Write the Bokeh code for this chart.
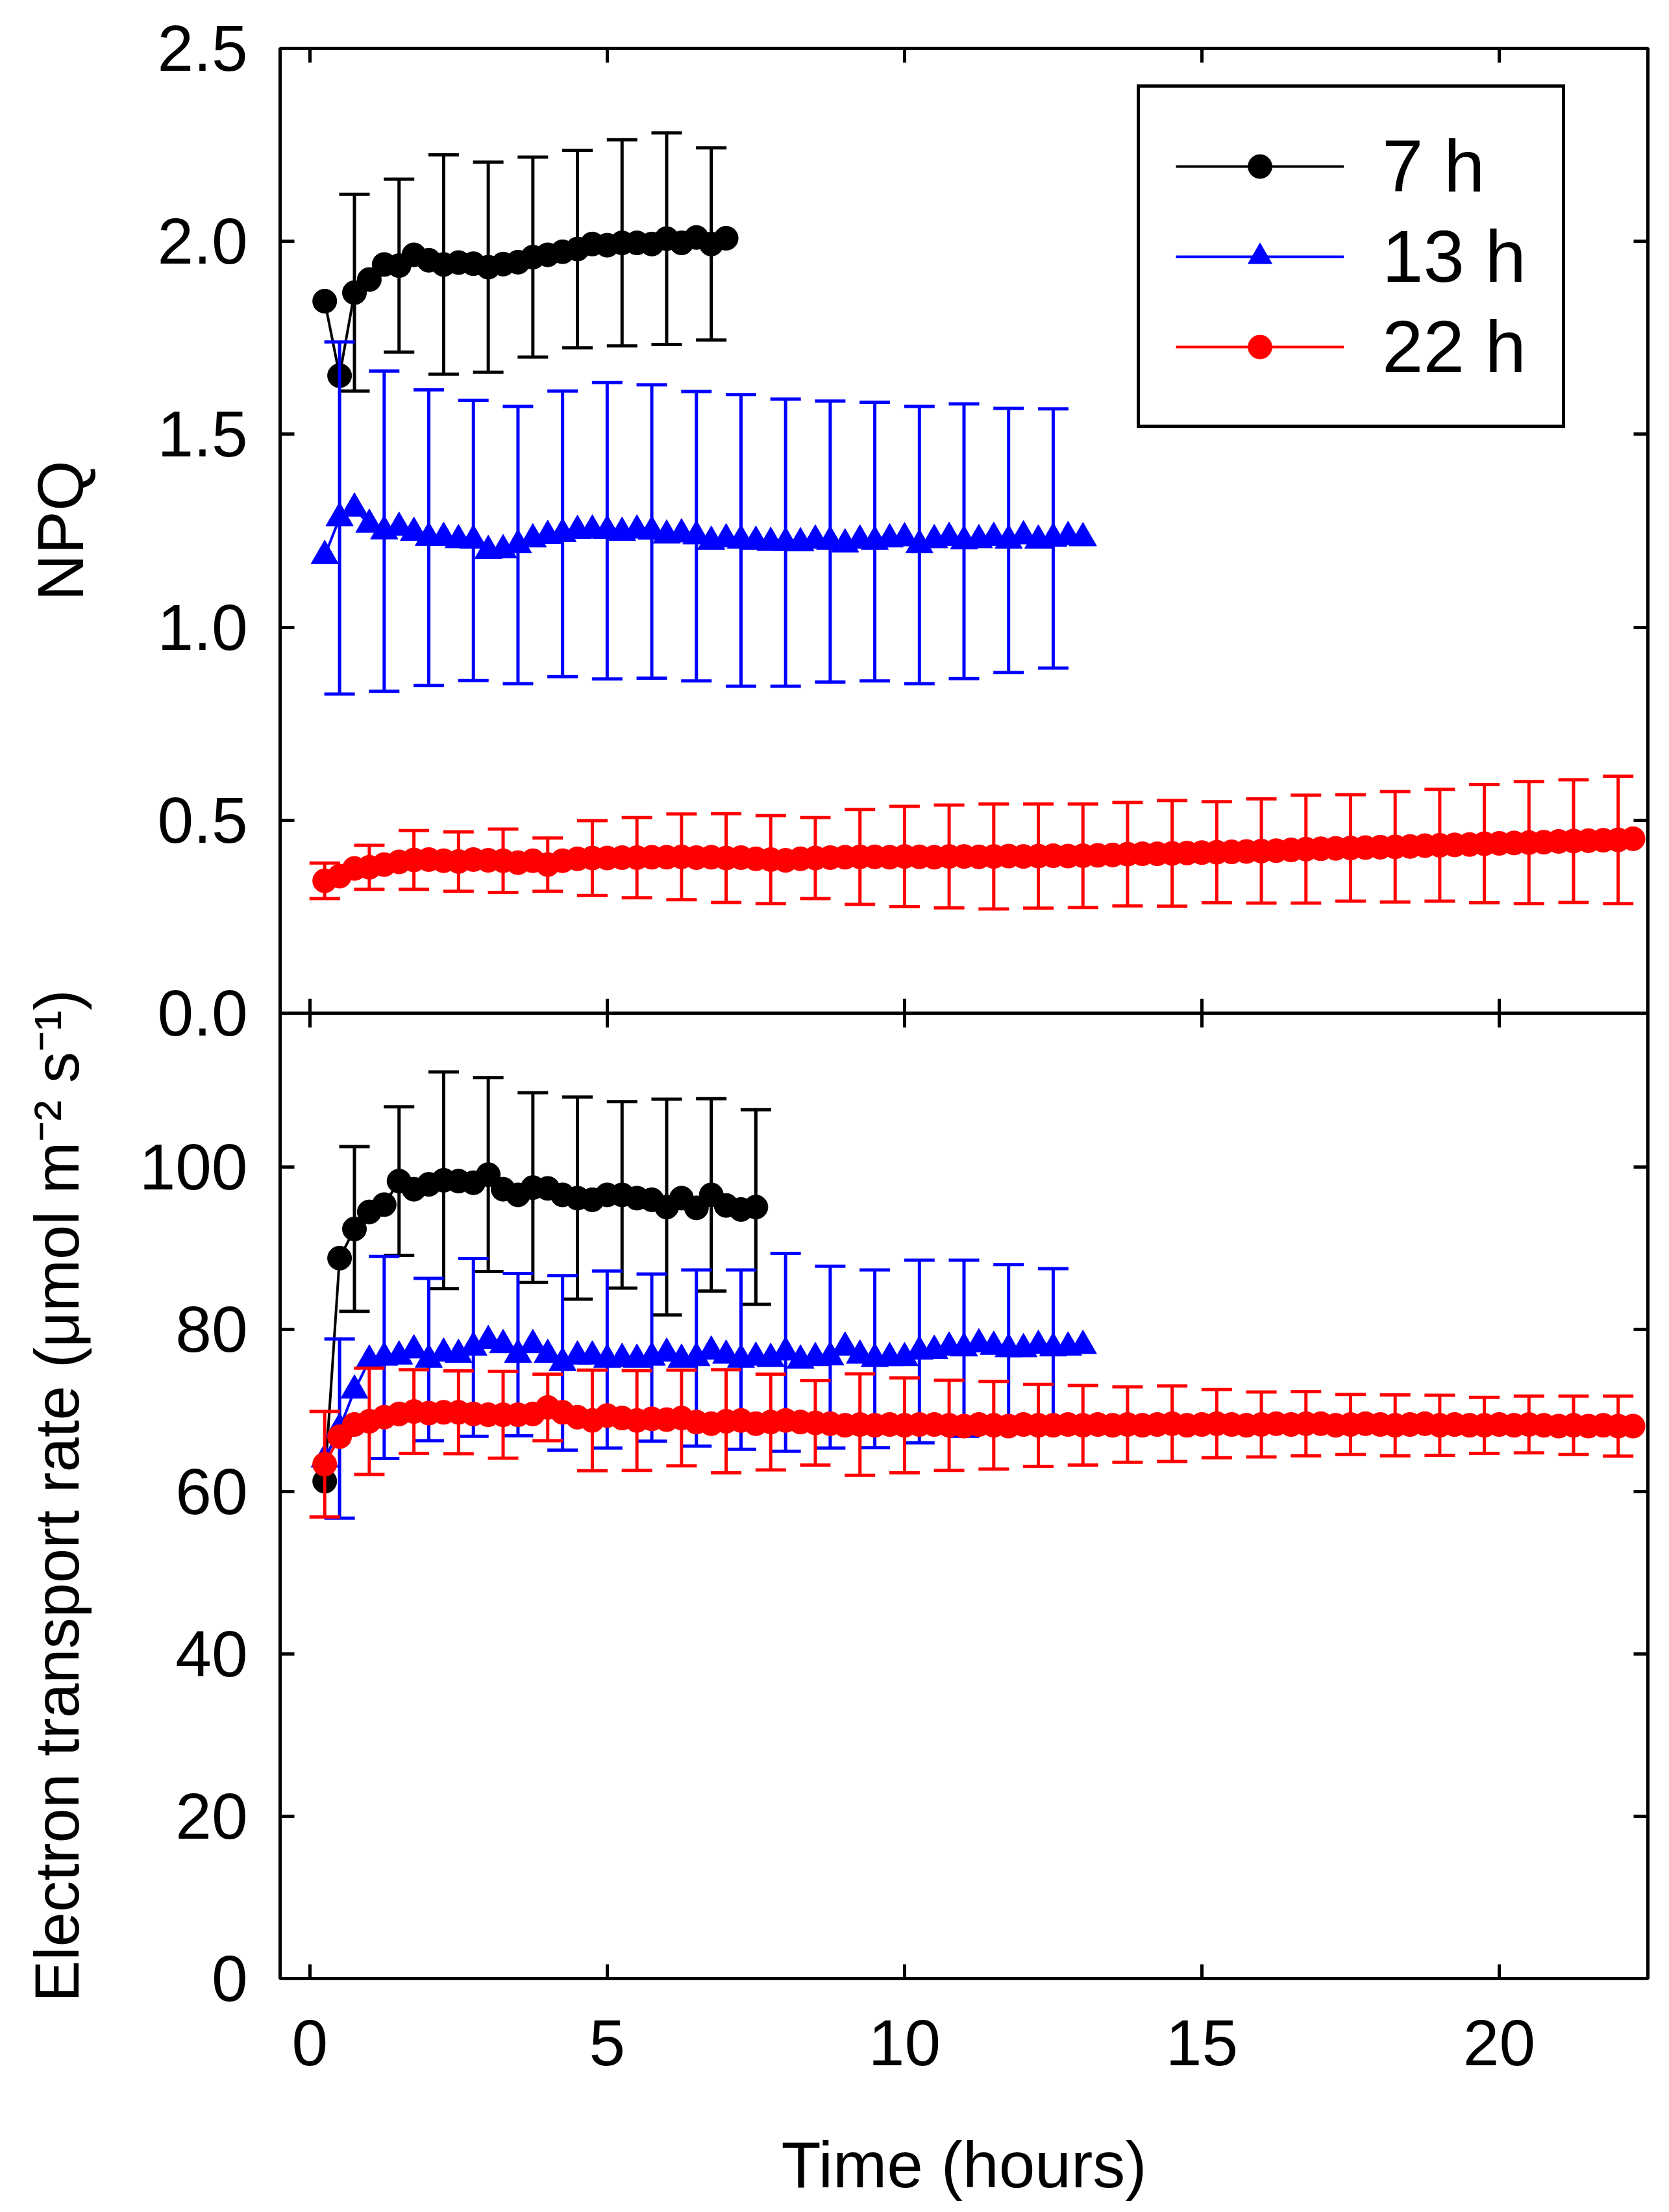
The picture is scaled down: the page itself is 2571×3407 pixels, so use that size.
import numpy as np
from bokeh.plotting import figure
from bokeh.layouts import column
from bokeh.models import (Range1d, LinearAxis, FixedTicker, Legend, LegendItem,
                          NumeralTickFormatter)
from bokeh.embed import file_html
from bokeh.resources import INLINE

FONT = "Liberation Sans"
STEP = 0.25  # sampling interval (h)

# ---------------- data ----------------
series_labels = ["7 h", "13 h", "22 h"]
series_colors = ["#000000", "#0000FF", "#FF0000"]

npq_7h = [1.845, 1.652, 1.867, 1.901, 1.940, 1.937, 1.965, 1.951, 1.940, 1.945,
          1.942, 1.933, 1.941, 1.946, 1.959, 1.965, 1.973, 1.980, 1.993, 1.990,
          1.996, 1.996, 1.993, 2.007, 1.996, 2.010, 1.993, 2.008]
npq_7h_sd = [0.255, 0.224, 0.284, 0.272, 0.259, 0.256, 0.267, 0.274, 0.249]

npq_13h = [1.185, 1.283, 1.308, 1.266, 1.249, 1.258, 1.245, 1.232, 1.232, 1.226,
           1.225, 1.198, 1.200, 1.213, 1.228, 1.237, 1.242, 1.250, 1.251, 1.250,
           1.245, 1.251, 1.248, 1.238, 1.241, 1.236, 1.222, 1.228, 1.225, 1.222,
           1.219, 1.219, 1.218, 1.225, 1.222, 1.215, 1.225, 1.222, 1.228, 1.231,
           1.213, 1.226, 1.232, 1.223, 1.226, 1.232, 1.225, 1.236, 1.225, 1.230,
           1.234, 1.231]
npq_13h_sd = [0.456, 0.415, 0.383, 0.363, 0.359, 0.370, 0.384, 0.380, 0.375,
              0.378, 0.372, 0.364, 0.361, 0.359, 0.356, 0.342, 0.336]

npq_22h = [0.343, 0.355, 0.375, 0.378, 0.385, 0.392, 0.397, 0.398, 0.395, 0.393,
           0.398, 0.396, 0.395, 0.390, 0.395, 0.385, 0.395, 0.400, 0.402, 0.402,
           0.403, 0.403, 0.404, 0.404, 0.405, 0.403, 0.404, 0.402, 0.403, 0.400,
           0.398, 0.396, 0.400, 0.402, 0.403, 0.404, 0.405, 0.405, 0.404, 0.406,
           0.405, 0.404, 0.406, 0.406, 0.405, 0.406, 0.407, 0.406, 0.407, 0.408,
           0.407, 0.408, 0.409, 0.410, 0.412, 0.413, 0.413, 0.414, 0.415, 0.416,
           0.417, 0.418, 0.419, 0.420, 0.421, 0.423, 0.425, 0.426, 0.427, 0.428,
           0.429, 0.430, 0.431, 0.432, 0.434, 0.435, 0.436, 0.437, 0.439, 0.440,
           0.441, 0.442, 0.443, 0.445, 0.446, 0.447, 0.448, 0.449, 0.452]
npq_22h_sd = [0.046, 0.057, 0.076, 0.077, 0.082, 0.069, 0.097, 0.104, 0.111, 0.115,
              0.114, 0.105, 0.123, 0.130, 0.133, 0.136, 0.135, 0.134, 0.134, 0.137,
              0.131, 0.135, 0.140, 0.138, 0.143, 0.145, 0.153, 0.158, 0.159, 0.165]

etr_7h = [61.3, 88.8, 92.4, 94.5, 95.4, 98.3, 97.3, 97.9, 98.4, 98.3,
          98.1, 99.1, 97.3, 96.6, 97.5, 97.4, 96.6, 96.2, 96.0, 96.6,
          96.6, 96.2, 96.0, 95.1, 96.2, 95.0, 96.6, 95.3, 94.8, 95.1]
etr_7h_sd = [10.15, 9.15, 13.35, 11.95, 11.7, 12.45, 11.5, 13.3, 11.85, 12.0]

etr_13h = [64.0, 67.8, 72.5, 76.2, 76.55, 76.7, 77.45, 76.3, 77.05, 76.9,
           77.8, 78.6, 78.1, 76.9, 78.1, 76.9, 75.9, 76.7, 76.7, 76.3,
           76.4, 76.3, 76.55, 77.05, 76.3, 76.5, 77.3, 76.8, 76.3, 76.55,
           76.4, 77.2, 76.2, 76.5, 76.6, 77.8, 76.8, 76.4, 76.5, 76.5,
           77.3, 77.4, 77.8, 77.7, 78.2, 77.9, 77.6, 77.6, 78.0, 77.7,
           77.8, 78.0]
etr_13h_sd = [11.05, 12.45, 10.0, 10.95, 10.0, 10.75, 10.9, 10.3, 10.85,
              11.05, 12.2, 11.2, 10.95, 11.25, 10.85, 10.4, 9.8]

etr_22h = [63.4, 66.8, 68.3, 68.7, 69.2, 69.6, 69.9, 69.7, 69.8, 69.8,
           69.6, 69.5, 69.5, 69.5, 69.6, 70.4, 69.8, 69.2, 68.8, 69.4,
           69.1, 68.8, 69.0, 68.9, 69.1, 68.6, 68.4, 68.7, 68.8, 68.4,
           68.6, 68.8, 68.6, 68.5, 68.4, 68.2, 68.3, 68.2, 68.3, 68.2,
           68.3, 68.3, 68.2, 68.1, 68.3, 68.2, 68.1, 68.3, 68.2, 68.2,
           68.3, 68.2, 68.3, 68.2, 68.3, 68.2, 68.3, 68.4, 68.2, 68.3,
           68.4, 68.3, 68.2, 68.3, 68.4, 68.3, 68.4, 68.4, 68.2, 68.3,
           68.4, 68.3, 68.2, 68.3, 68.4, 68.2, 68.3, 68.2, 68.2, 68.3,
           68.2, 68.3, 68.2, 68.1, 68.2, 68.1, 68.2, 68.1, 68.1]
etr_22h_sd = [6.5, 6.55, 5.15, 5.1, 5.35, 4.1, 6.2, 6.15, 5.9, 6.35,
              5.9, 5.2, 6.25, 5.85, 5.55, 5.4, 5.05, 4.9, 4.65, 4.65,
              4.2, 4.0, 3.95, 3.7, 3.75, 3.7, 3.45, 3.5, 3.6, 3.7]

# index of the first point carrying an error bar (bars on every 3rd point)
err_first = [2, 1, 0]

x_ticks = [0, 5, 10, 15, 20]
x_tick_labels = ["0", "5", "10", "15", "20"]
npq_ticks = [0.0, 0.5, 1.0, 1.5, 2.0, 2.5]
npq_tick_labels = ["0.0", "0.5", "1.0", "1.5", "2.0", "2.5"]
etr_ticks = [0, 20, 40, 60, 80, 100]
etr_tick_labels = ["0", "20", "40", "60", "80", "100"]

# ---------------- layout constants ----------------
FRAME_W = 2107
BORDER_L = 431
BORDER_R = 24
TICK_LEN = 22
LW = 5
OVERLAP = 80   # extra canvas above/below the panel seam

xr = Range1d(-0.5, 22.5)


def style_axis(ax, ticks, labels, show, standoff=50):
    ax.ticker = FixedTicker(ticks=ticks)
    ax.axis_line_color = None
    ax.major_tick_in = TICK_LEN
    ax.major_tick_out = 0
    ax.major_tick_line_width = LW
    ax.major_tick_line_color = "black"
    ax.minor_tick_line_color = None
    if show:
        ax.major_label_overrides = dict(zip(ticks, labels))
        ax.major_label_text_font = FONT
        ax.major_label_text_font_size = "100px"
        ax.major_label_text_color = "black"
        ax.major_label_standoff = standoff
    else:
        ax.major_label_text_font_size = "1px"
        ax.major_label_text_color = None
        ax.major_label_standoff = 0


def style_title(ax, text, size, standoff):
    ax.axis_label = text
    ax.axis_label_text_font = FONT
    ax.axis_label_text_font_size = size
    ax.axis_label_text_font_style = "normal"
    ax.axis_label_text_color = "black"
    ax.axis_label_standoff = standoff


def make_fig(yr, frame_h, b_top, b_bottom):
    p = figure(x_range=xr, y_range=yr, frame_width=FRAME_W, frame_height=frame_h,
               min_border_left=BORDER_L, min_border_right=BORDER_R,
               min_border_top=b_top, min_border_bottom=b_bottom,
               output_backend="svg", toolbar_location=None)
    p.grid.grid_line_color = None
    p.outline_line_color = "black"
    p.outline_line_width = LW
    p.background_fill_color = None
    p.border_fill_color = None
    return p


def add_tick_axes(p, yticks, ylabels):
    right = LinearAxis()
    style_axis(right, yticks, ylabels, False)
    p.add_layout(right, "right")
    top = LinearAxis()
    style_axis(top, x_ticks, x_tick_labels, False)
    p.add_layout(top, "above")


def add_series(p, vals, sd, first, color, marker, size):
    t = [STEP * (i + 1) for i in range(len(vals))]
    idx = list(range(first, len(vals), 3))[:len(sd)]
    et = [t[i] for i in idx]
    lo = [vals[i] - s for i, s in zip(idx, sd)]
    hi = [vals[i] + s for i, s in zip(idx, sd)]
    p.segment(x0=et, y0=lo, x1=et, y1=hi, line_color=color, line_width=LW)
    p.scatter(et, hi, marker="dash", size=47, line_color=color, line_width=LW)
    p.scatter(et, lo, marker="dash", size=47, line_color=color, line_width=LW)
    ln = p.line(t, vals, line_color=color, line_width=4)
    sc = p.scatter(t, vals, marker=marker, size=size, fill_color=color,
                   line_color=color, line_width=1)
    return [ln, sc]


markers = ["circle", "triangle", "circle"]
sizes = [37, 42, 37]

# ---------------- top panel: NPQ ----------------
p1 = make_fig(Range1d(0, 2.5), 1486, 74, OVERLAP)
left1 = p1.left[0]
below1 = p1.below[0]
style_axis(left1, npq_ticks, npq_tick_labels, True)
left1.formatter = NumeralTickFormatter(format="0.0")
style_title(left1, "NPQ", "100px", 90)
style_axis(below1, x_ticks, x_tick_labels, False)
add_tick_axes(p1, npq_ticks, npq_tick_labels)

top_rs = []
for vals, sd, first, c, m, s in zip([npq_7h, npq_13h, npq_22h],
                                    [npq_7h_sd, npq_13h_sd, npq_22h_sd],
                                    err_first, series_colors, markers, sizes):
    top_rs.append(add_series(p1, vals, sd, first, c, m, s))

legend = Legend(items=[LegendItem(label=l, renderers=r) for l, r in zip(series_labels, top_rs)],
                location=(1320, 901), glyph_width=259, glyph_height=92, label_height=92,
                label_standoff=59, padding=55, spacing=8, margin=0,
                border_line_color="black", border_line_width=LW, border_line_alpha=1.0,
                background_fill_color="white", background_fill_alpha=1.0,
                label_text_font=FONT, label_text_font_size="114px",
                label_text_color="black")
p1.add_layout(legend)

# ---------------- bottom panel: ETR ----------------
p2 = make_fig(Range1d(0, 119), 1487, OVERLAP, 340)
p2.margin = (-2 * OVERLAP, 0, 0, 0)
left2 = p2.left[0]
below2 = p2.below[0]
style_axis(left2, etr_ticks, etr_tick_labels, True)
style_title(left2, "Electron transport rate (\u03bcmol m\u207b\u00b2 s\u207b\u00b9)", "96px", 71)
style_axis(below2, x_ticks, x_tick_labels, True, standoff=64)
style_title(below2, "Time (hours)", "100px", 94)
add_tick_axes(p2, etr_ticks, etr_tick_labels)

for vals, sd, first, c, m, s in zip([etr_7h, etr_13h, etr_22h],
                                    [etr_7h_sd, etr_13h_sd, etr_22h_sd],
                                    err_first, series_colors, markers, sizes):
    add_series(p2, vals, sd, first, c, m, s)

layout = column(p1, p2, spacing=0)
open("out.html", "w").write(file_html(layout, INLINE))
